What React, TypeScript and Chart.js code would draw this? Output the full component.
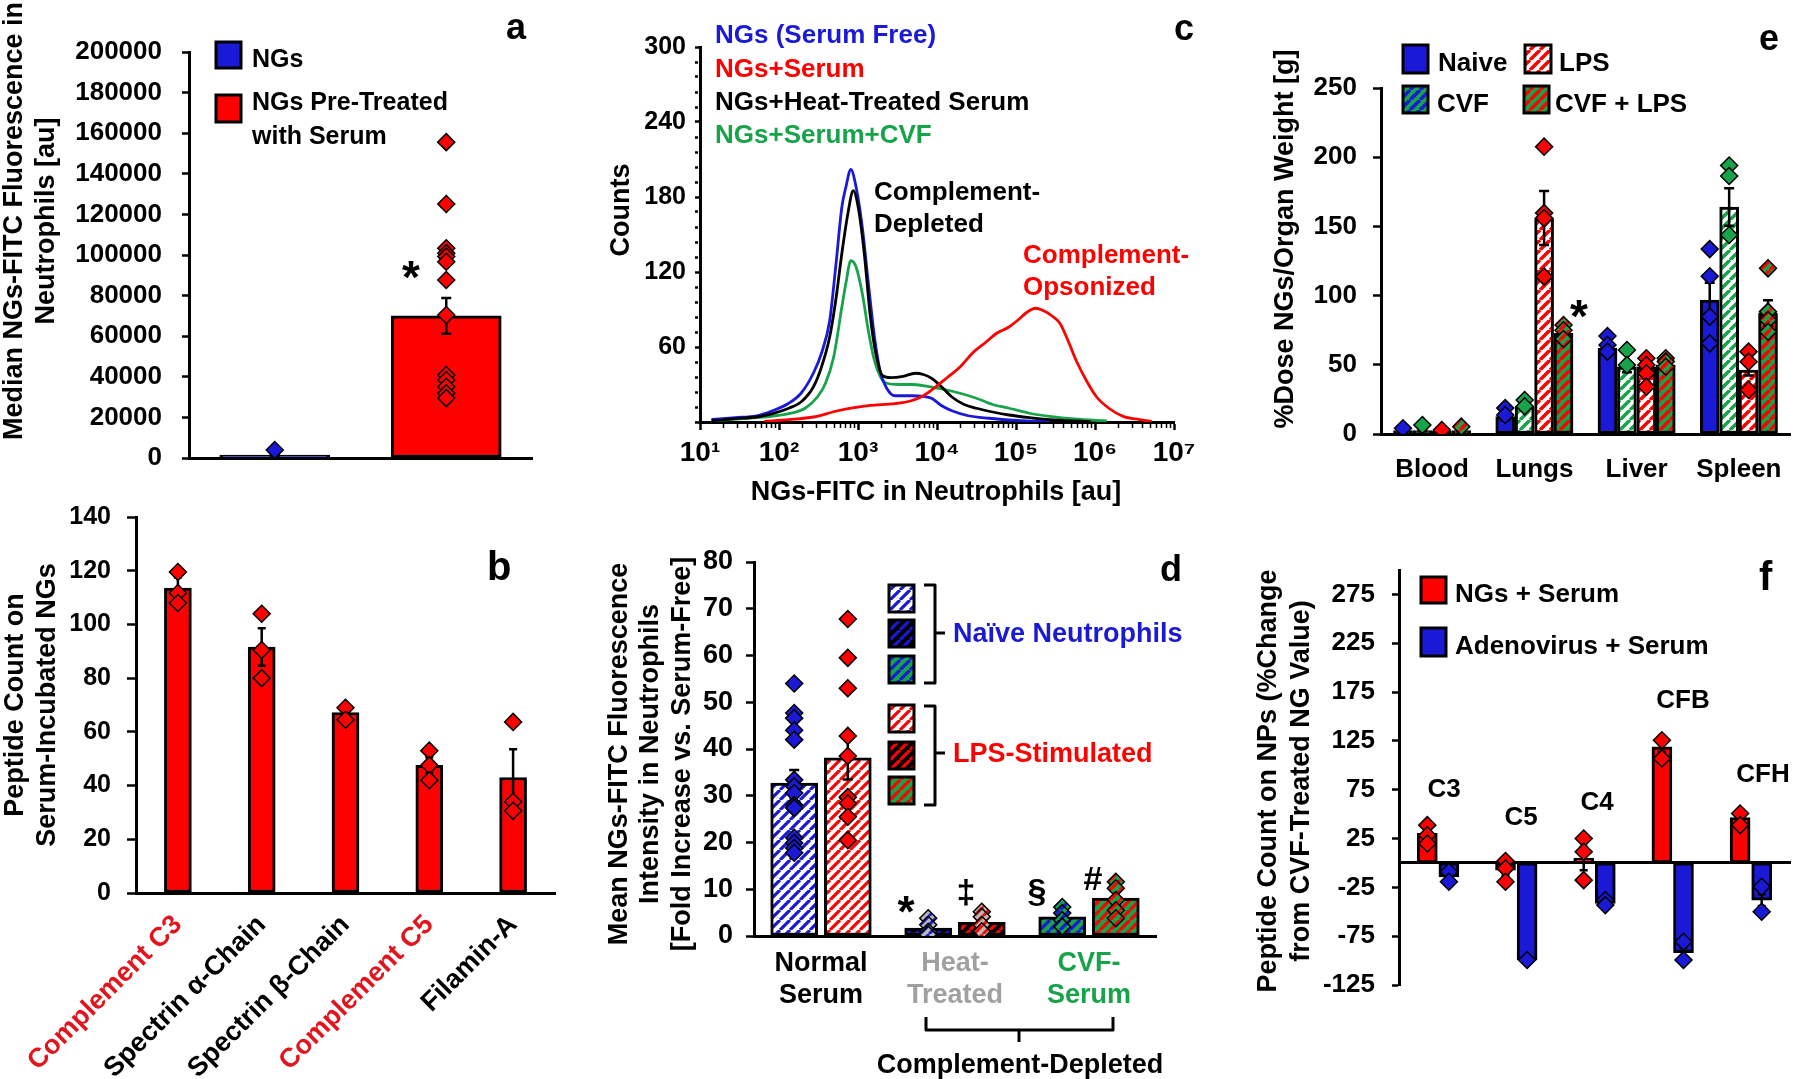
import React, { useEffect, useRef } from 'react';
import { Chart, registerables } from 'chart.js';

Chart.register(...registerables);

/* ======================= DATA ======================= */
// Panel a
const aGroups = ['NGs', 'NGs Pre-Treated with Serum'];
const aLegendLines = ['NGs', 'NGs Pre-Treated', 'with Serum'];
const aMeans = [1500, 70000];
const aErrors = [600, 8800];
const aPointsNGs = [3900];
const aPointsSerum = [155600, 125100, 103300, 100900, 99200, 96700, 87700, 70400, 40900, 38400, 35100, 31900, 29500];

// Panel b
const bProteins = ['Complement C3', 'Spectrin α-Chain', 'Spectrin β-Chain', 'Complement C5', 'Filamin-A'];
const bIsComplement = [true, false, false, true, false];
const bMeans = [113.5, 91.6, 67.2, 47.5, 43];
const bErrors = [4, 7, 1.5, 3, 10.5];
const bPoints = [[119.5, 111.7, 108], [104, 90.5, 80], [69, 64.5], [53, 47.6, 42], [63.7, 34, 30.6]];

// Panel c (flow cytometry histograms: x = NGs-FITC [au], y = counts)
const cSeries = ['NGs (Serum Free)', 'NGs+Serum', 'NGs+Heat-Treated Serum', 'NGs+Serum+CVF'];
const cSerumFreeX = [14, 28, 52, 83, 133, 190, 272, 345, 438, 522, 625, 703, 811, 946, 1132, 1352, 1616, 1932, 2308, 2926, 4710, 6730, 8530, 11480, 15450, 24850, 45000, 103300, 267500];
const cSerumFreeY = [2, 3.5, 5, 9, 15, 23, 39, 55, 81, 124, 172, 188, 202, 188, 156, 111, 68, 39, 27, 21, 21, 20.5, 19, 13, 9, 5, 3, 1.3, 0.3];
const cSerumX = [65, 133, 272, 554, 892, 1435, 2926, 4710, 6730, 9600, 13710, 19590, 27990, 39990, 57040, 81500, 103300, 139000, 176500, 223900, 283600, 359700, 456000, 579400, 779800, 1049000, 1497000, 2268000, 3650000, 5210000];
const cSerumY = [0.5, 1.9, 4, 9, 11.5, 13.3, 14.7, 17, 21, 28, 36, 44, 55, 63, 71, 76, 81, 88, 91, 89, 85, 79, 65, 49, 33, 20, 11, 4.5, 1.9, 0.5];
const cHeatX = [14, 28, 52, 83, 133, 190, 272, 345, 438, 522, 625, 746, 871, 1005, 1200, 1435, 1715, 2050, 2600, 3715, 5300, 6730, 8530, 11480, 15450, 22070, 31500, 50700, 81500, 147500, 267500, 545400, 877500];
const cHeatY = [1, 2.7, 4, 6.7, 11, 16, 28, 44, 68, 97, 135, 167, 185, 172, 135, 84, 52, 37, 35.5, 36.5, 39, 38, 35, 28, 20, 14, 11, 8, 5.6, 3.5, 1.9, 0.8, 0.3];
const cCvfX = [14, 52, 133, 214, 306, 388, 492, 625, 703, 811, 946, 1132, 1352, 1616, 1932, 2308, 3296, 4710, 7570, 12190, 19590, 31500, 50700, 81500, 147500, 267500, 545400, 1413000];
const cCvfY = [1, 3.5, 6.7, 11, 20, 31, 52, 92, 111, 129, 124, 103, 73, 49, 36, 31, 30, 30, 28.5, 26, 23, 19, 14, 11, 7, 4.5, 2.4, 0.8];

// Panel d
const dGroups = [['Normal', 'Serum'], ['Heat-', 'Treated'], ['CVF-', 'Serum']];
const dNaiveMeans = [32.7, 1.7, 4.1];
const dNaiveErrors = [2.8, 0.5, 0.8];
const dLpsMeans = [38.1, 2.9, 8.1];
const dLpsErrors = [4.6, 0.7, 1.4];
const dNaivePoints = [[54, 47.7, 46.6, 44, 42, 33.4, 32, 30.6, 28, 27.4, 21, 19.9, 18.8, 17.8], [3.8, 2.4, 0.9, 0.3], [6.2, 4.9, 3.4, 2]];
const dLpsPoints = [[67.8, 59.5, 53, 42.8, 38.5, 29.7, 28.4, 25.5, 20.5], [5.2, 4.1, 2.4, 1], [11.6, 10.2, 7.7, 5.5, 3.8]];

// Panel e
const eOrgans = ['Blood', 'Lungs', 'Liver', 'Spleen'];
const eTreatments = ['Naive', 'CVF', 'LPS', 'CVF + LPS'];
const eNaiveMeans = [2.5, 12.5, 62, 96.8];
const eCvfMeans = [2.5, 20, 48.6, 164];
const eLpsMeans = [2, 156, 48.6, 46.2];
const eCvfLpsMeans = [2.5, 72.7, 49.9, 87.2];
const eNaiveErrors = [0.5, 2.5, 3, 12.5];
const eCvfErrors = [0.5, 2.5, 4, 13.5];
const eLpsErrors = [0.5, 19.5, 4, 4];
const eCvfLpsErrors = [0.5, 3, 1.5, 9.5];
const eNaivePoints = [[4.1], [18.7, 13.7], [70.8, 64.3, 59.5], [133.6, 114, 84.8, 65.5]];
const eCvfPoints = [[6.5], [24.6, 20], [60.7, 49.9], [194, 186.4, 143.8]];
const eLpsPoints = [[2.9], [207.6, 159.6, 156, 113.7], [54.7, 49.9, 43.9, 34.2], [59.5, 52.2, 31.8]];
const eCvfLpsPoints = [[5.3], [78.8, 75, 68.6], [54.7, 52.3, 48.6], [119.7, 88.4, 82.4, 73.9]];

// Panel f
const fProteins = ['C3', 'C5', 'C4', 'CFB', 'CFH'];
const fSeries = ['NGs + Serum', 'Adenovirus + Serum'];
const fNgMeans = [30.2, -7.4, 4.6, 118.8, 46.5];
const fNgErrors = [3, 5, 12, 5, 3];
const fAdenoMeans = [-14.2, -99.4, -41.5, -92, -38];
const fAdenoErrors = [3, 1, 2, 5, 6];
const fNgPoints = [[38.7, 28.4, 19.9], [2, -5.6, -19.3], [25, 11.4, -17.6], [125.6, 106.9], [50.6, 38.7]];
const fAdenoPoints = [[-9, -19.3], [-99.4], [-38, -43.2], [-80.7, -99.4], [-24.4, -50]];
const fTicks = [-125, -75, -25, 25, 75, 125, 175, 225, 275];

/* ======================= STYLE ======================= */
const BLUE = '#1a1ad6';
const RED = '#ff0000';
const GREEN = '#17a34a';
const BLACK = '#000000';
const WHITE = '#ffffff';
const GRAY = '#a0a0a0';
const LABEL_RED = '#e3141c';
const SANS = '"Liberation Sans", Arial, Helvetica, sans-serif';

type Rect = { l: number; t: number; w: number; h: number };

function hatch(bg: string, fg: string, period: number, lw: number): any {
  const c = document.createElement('canvas');
  c.width = period;
  c.height = period;
  const g = c.getContext('2d') as CanvasRenderingContext2D;
  g.fillStyle = bg;
  g.fillRect(0, 0, period, period);
  g.strokeStyle = fg;
  g.lineWidth = lw;
  g.beginPath();
  for (const o of [-period, 0, period]) {
    g.moveTo(o, period);
    g.lineTo(o + period, 0);
  }
  g.stroke();
  return g.createPattern(c, 'repeat') || bg;
}

function makePatterns() {
  return {
    blueOnWhite: hatch(WHITE, BLUE, 10, 3.2),
    redOnWhite: hatch(WHITE, RED, 10, 3.2),
    blueOnBlack: hatch(BLACK, BLUE, 10, 3.2),
    redOnBlack: hatch(BLACK, RED, 10, 3.2),
    blueOnGreen: hatch(GREEN, BLUE, 10, 3.2),
    redOnGreen: hatch(GREEN, RED, 10, 3.2),
    blueOnGray: hatch('#b8b8b8', BLUE, 9, 3),
    redOnGray: hatch('#b8b8b8', RED, 9, 3),
    greenOnWhiteE: hatch(WHITE, GREEN, 10, 3.5),
    redOnWhiteE: hatch(WHITE, RED, 10, 3.5),
    redOnGreenE: hatch(GREEN, RED, 10, 3.5),
    blueOnGreenE: hatch(GREEN, BLUE, 10, 3.5),
  };
}

type TextOpts = { size: number; color?: string; align?: CanvasTextAlign; rot?: boolean };
function text(ctx: CanvasRenderingContext2D, s: string, x: number, y: number, o: TextOpts) {
  ctx.save();
  ctx.font = `bold ${o.size}px ${SANS}`;
  ctx.fillStyle = o.color || BLACK;
  ctx.textAlign = o.align || 'left';
  ctx.textBaseline = 'alphabetic';
  ctx.translate(x, y);
  if (o.rot) ctx.rotate(-Math.PI / 2);
  ctx.fillText(s, 0, 0);
  ctx.restore();
}

function box(ctx: CanvasRenderingContext2D, x: number, y: number, w: number, h: number, fill: any) {
  ctx.save();
  ctx.fillStyle = fill;
  ctx.fillRect(x, y, w, h);
  ctx.strokeStyle = BLACK;
  ctx.lineWidth = 3;
  ctx.strokeRect(x, y, w, h);
  ctx.restore();
}

function poly(ctx: CanvasRenderingContext2D, pts: number[][], lw = 3) {
  ctx.save();
  ctx.strokeStyle = BLACK;
  ctx.lineWidth = lw;
  ctx.lineJoin = 'round';
  ctx.beginPath();
  pts.forEach((p, i) => (i ? ctx.lineTo(p[0], p[1]) : ctx.moveTo(p[0], p[1])));
  ctx.stroke();
  ctx.restore();
}

function overlay(rect: Rect, draw: (ctx: CanvasRenderingContext2D, chart: any) => void) {
  return {
    id: 'overlay',
    afterDraw(chart: any) {
      const ctx = chart.ctx as CanvasRenderingContext2D;
      ctx.save();
      ctx.translate(-rect.l, -rect.t);
      draw(ctx, chart);
      ctx.restore();
    },
  };
}

function errorBars(map: Record<number, number[]>, cap: number, lw = 2.5) {
  return {
    id: 'errorBars',
    afterDatasetDraw(chart: any, args: any) {
      const errs = map[args.index];
      if (!errs) return;
      const ys = chart.scales.y;
      const ctx = chart.ctx as CanvasRenderingContext2D;
      const ds = chart.data.datasets[args.index];
      ctx.save();
      ctx.strokeStyle = BLACK;
      ctx.lineWidth = lw;
      args.meta.data.forEach((el: any, j: number) => {
        const v = ds.data[j].y;
        const e = errs[j];
        if (!e) return;
        const x = el.x;
        const y1 = ys.getPixelForValue(v + e);
        const y2 = ys.getPixelForValue(v - e);
        ctx.beginPath();
        ctx.moveTo(x, y1);
        ctx.lineTo(x, y2);
        ctx.moveTo(x - cap, y1);
        ctx.lineTo(x + cap, y1);
        ctx.moveTo(x - cap, y2);
        ctx.lineTo(x + cap, y2);
        ctx.stroke();
      });
      ctx.restore();
    },
  };
}

function diamond(fill: any, r = 8.5) {
  return {
    type: 'scatter',
    pointStyle: 'rectRot',
    pointRadius: r,
    pointBackgroundColor: fill,
    pointBorderColor: BLACK,
    pointBorderWidth: 1.5,
    backgroundColor: fill,
    borderColor: BLACK,
    showLine: false,
    order: 0,
  };
}

function bars(width: number) {
  return {
    type: 'bar',
    borderColor: BLACK,
    borderWidth: 3,
    borderSkipped: false,
    grouped: false,
    barPercentage: 1,
    categoryPercentage: 1,
    maxBarThickness: width,
    order: 1,
  };
}

function valAxis(o: { min: number; max: number; step?: number; values?: number[]; width: number; size: number; tickLen: number; pad: number; label?: (v: number) => string; dash?: (v: number) => number[] }) {
  return {
    type: 'linear',
    min: o.min,
    max: o.max,
    afterFit: (s: any) => { s.width = o.width; s.paddingTop = 0; s.paddingBottom = 0; },
    afterBuildTicks: (s: any) => { if (o.values) s.ticks = o.values.map((v) => ({ value: v })); },
    ticks: {
      stepSize: o.step,
      autoSkip: false,
      color: BLACK,
      padding: o.pad,
      font: { family: SANS, size: o.size, weight: 'bold' },
      callback: (v: any) => (o.label ? o.label(Number(v)) : String(v)),
    },
    grid: {
      drawOnChartArea: false,
      drawTicks: true,
      tickLength: o.tickLen,
      tickColor: BLACK,
      tickWidth: 2.5,
      tickBorderDash: (c: any) => (o.dash && c.tick ? o.dash(c.tick.value) : []),
    },
    border: { display: true, color: BLACK, width: 3 },
  };
}

function catAxis(o: { n: number; height: number; labels?: any[]; colors?: string[]; size?: number; pad?: number; rot?: number; position?: any }) {
  const lbl = o.labels;
  return {
    type: 'linear',
    min: -0.5,
    max: o.n - 0.5,
    offset: false,
    position: o.position || 'bottom',
    afterFit: (s: any) => { s.height = o.height; s.paddingLeft = 0; s.paddingRight = 0; },
    afterBuildTicks: (s: any) => { s.ticks = Array.from({ length: o.n }, (_, i) => ({ value: i })); },
    ticks: {
      display: !!lbl,
      autoSkip: false,
      maxRotation: o.rot || 0,
      minRotation: o.rot || 0,
      padding: o.pad || 0,
      color: (c: any) => (o.colors ? o.colors[c.index] : BLACK),
      font: { family: SANS, size: o.size || 24, weight: 'bold' },
      callback: (_v: any, i: number) => (lbl ? lbl[i] : ''),
    },
    grid: { display: false, drawTicks: false, offset: false },
    border: { display: true, color: BLACK, width: 3 },
  };
}

function baseOptions(padding: any, scales: any) {
  return {
    responsive: false,
    animation: false,
    events: [],
    layout: { padding: { left: 0, bottom: 0, ...padding } },
    plugins: { legend: { display: false }, tooltip: { enabled: false }, title: { display: false } },
    scales,
  };
}

/* ======================= PANELS ======================= */
const RA: Rect = { l: 0, t: 0, w: 560, h: 480 };
function makeA(r: Rect) {
  const datasets: any[] = [
    { ...diamond(BLUE), label: aGroups[0], data: aPointsNGs.map((y) => ({ x: 0, y })) },
    { ...diamond(RED), label: aGroups[1], data: aPointsSerum.map((y) => ({ x: 1, y })) },
    { ...bars(110), label: 'mean', data: aMeans.map((y, i) => ({ x: i, y })), backgroundColor: [BLUE, RED] },
  ];
  return {
    type: 'bar',
    data: { datasets },
    options: baseOptions({ top: 52, right: 28 }, {
      x: catAxis({ n: aGroups.length, height: 22 }),
      y: valAxis({ min: 0, max: 200000, step: 20000, width: 189, size: 26, tickLen: 7, pad: 20 }),
    }),
    plugins: [
      errorBars({ 2: aErrors }, 5),
      overlay(r, (ctx) => {
        box(ctx, 216, 42, 25, 26, BLUE);
        box(ctx, 216, 95, 25, 27, RED);
        text(ctx, aLegendLines[0], 252, 67, { size: 25 });
        text(ctx, aLegendLines[1], 252, 110, { size: 25 });
        text(ctx, aLegendLines[2], 252, 144, { size: 25 });
        text(ctx, 'a', 506, 39, { size: 36 });
        text(ctx, '*', 411, 293, { size: 46, align: 'center' });
        text(ctx, 'Median NGs-FITC Fluorescence in', 22, 221, { size: 27, rot: true, align: 'center' });
        text(ctx, 'Neutrophils [au]', 54, 221, { size: 27, rot: true, align: 'center' });
      }),
    ],
  };
}

const RB: Rect = { l: 0, t: 480, w: 580, h: 599 };
function makeB(r: Rect) {
  const datasets: any[] = [
    { ...diamond(RED), label: 'replicates', data: bPoints.flatMap((arr, i) => arr.map((y) => ({ x: i, y }))) },
    { ...bars(27), label: 'mean', data: bMeans.map((y, i) => ({ x: i, y })), backgroundColor: RED },
  ];
  return {
    type: 'bar',
    data: { datasets },
    options: baseOptions({ top: 37, right: 25 }, {
      x: catAxis({ n: bProteins.length, height: 186, labels: bProteins, colors: bIsComplement.map((c) => (c ? LABEL_RED : BLACK)), size: 27, pad: 16, rot: 45 }),
      y: valAxis({ min: 0, max: 140, step: 20, width: 136, size: 25, tickLen: 9, pad: 16 }),
    }),
    plugins: [
      errorBars({ 1: bErrors }, 4),
      overlay(r, (ctx) => {
        text(ctx, 'b', 487, 580, { size: 40 });
        text(ctx, 'Peptide Count on', 23, 705, { size: 27, rot: true, align: 'center' });
        text(ctx, 'Serum-Incubated NGs', 55, 705, { size: 27, rot: true, align: 'center' });
      }),
    ],
  };
}

const SUP: Record<string, string> = { '0': '⁰', '1': '¹', '2': '²', '3': '³', '4': '⁴', '5': '⁵', '6': '⁶', '7': '⁷', '8': '⁸', '9': '⁹' };
function isPow10(v: number) {
  if (!v) return false;
  const l = Math.log10(v);
  return Math.abs(l - Math.round(l)) < 1e-6;
}

const RC: Rect = { l: 560, t: 0, w: 680, h: 520 };
function makeC(r: Rect) {
  const line = (xs: number[], ys: number[], color: string, label: string, order: number) => ({
    type: 'line', label, data: xs.map((x, i) => ({ x, y: ys[i] })), borderColor: color, borderWidth: 2.8,
    pointRadius: 0, fill: false, cubicInterpolationMode: 'monotone', order,
  });
  const datasets: any[] = [
    line(cSerumX, cSerumY, RED, cSeries[1], 0),
    line(cHeatX, cHeatY, BLACK, cSeries[2], 1),
    line(cSerumFreeX, cSerumFreeY, BLUE, cSeries[0], 2),
    line(cCvfX, cCvfY, GREEN, cSeries[3], 3),
  ];
  const xTicks: number[] = [];
  for (let e = 1; e < 7; e++) for (let m = 1; m < 10; m++) xTicks.push(m * Math.pow(10, e));
  xTicks.push(1e7);
  const yTicks = Array.from({ length: 26 }, (_, i) => i * 12);
  return {
    type: 'line',
    data: { datasets },
    options: baseOptions({ top: 47, right: 66 }, {
      x: {
        type: 'logarithmic', min: 10, max: 1e7,
        afterFit: (s: any) => { s.height = 98; s.paddingLeft = 0; s.paddingRight = 0; },
        afterBuildTicks: (s: any) => { s.ticks = xTicks.map((v) => ({ value: v })); },
        ticks: {
          autoSkip: false, maxRotation: 0, minRotation: 0, padding: 6, color: BLACK,
          font: { family: SANS, size: 28, weight: 'bold' },
          callback: (v: any) => (isPow10(Number(v)) ? '10' + SUP[String(Math.round(Math.log10(Number(v))))] : ''),
        },
        grid: {
          drawOnChartArea: false, drawTicks: true, tickLength: 8, tickColor: BLACK,
          tickWidth: (c: any) => (c.tick && isPow10(c.tick.value) ? 2.5 : 1.5),
          tickBorderDash: (c: any) => (c.tick && isPow10(c.tick.value) ? [] : [4, 20]),
        },
        border: { display: true, color: BLACK, width: 3 },
      },
      y: valAxis({
        min: 0, max: 300, values: yTicks, width: 140, size: 25, tickLen: 5, pad: 9,
        label: (v) => (v > 0 && v % 60 === 0 ? String(v) : ''),
        dash: (v) => (v % 60 === 0 ? [] : [3, 20]),
      }),
    }),
    plugins: [
      overlay(r, (ctx) => {
        text(ctx, cSeries[0], 715, 43, { size: 26, color: BLUE });
        text(ctx, cSeries[1], 715, 77, { size: 26, color: RED });
        text(ctx, cSeries[2], 715, 110, { size: 26, color: BLACK });
        text(ctx, cSeries[3], 715, 143, { size: 26, color: GREEN });
        text(ctx, 'Complement-', 874, 200, { size: 26 });
        text(ctx, 'Depleted', 874, 232, { size: 26 });
        text(ctx, 'Complement-', 1023, 263, { size: 26, color: RED });
        text(ctx, 'Opsonized', 1023, 295, { size: 26, color: RED });
        text(ctx, 'NGs-FITC in Neutrophils [au]', 936, 500, { size: 27, align: 'center' });
        text(ctx, 'Counts', 629, 210, { size: 27, rot: true, align: 'center' });
        text(ctx, 'c', 1174, 40, { size: 36 });
      }),
    ],
  };
}

const D_OFF = 0.2;
const RD: Rect = { l: 560, t: 520, w: 680, h: 559 };
function makeD(r: Rect) {
  const P = makePatterns();
  const naiveBarFill = [P.blueOnWhite, P.blueOnBlack, P.blueOnGreen];
  const lpsBarFill = [P.redOnWhite, P.redOnBlack, P.redOnGreen];
  const naiveDotFill = [BLUE, P.blueOnGray, P.blueOnGreen];
  const lpsDotFill = [RED, P.redOnGray, P.redOnGreen];
  const datasets: any[] = [
    {
      ...diamond(dNaivePoints.flatMap((arr, g) => arr.map(() => naiveDotFill[g]))), label: 'Naïve replicates',
      data: dNaivePoints.flatMap((arr, g) => arr.map((y) => ({ x: g - D_OFF, y }))),
    },
    {
      ...diamond(dLpsPoints.flatMap((arr, g) => arr.map(() => lpsDotFill[g]))), label: 'LPS replicates',
      data: dLpsPoints.flatMap((arr, g) => arr.map((y) => ({ x: g + D_OFF, y }))),
    },
    { ...bars(47), label: 'Naïve Neutrophils', data: dNaiveMeans.map((y, g) => ({ x: g - D_OFF, y })), backgroundColor: naiveBarFill },
    { ...bars(47), label: 'LPS-Stimulated', data: dLpsMeans.map((y, g) => ({ x: g + D_OFF, y })), backgroundColor: lpsBarFill },
  ];
  return {
    type: 'bar',
    data: { datasets },
    options: baseOptions({ top: 42, right: 84 }, {
      x: catAxis({ n: dGroups.length, height: 143, labels: dGroups, colors: [BLACK, GRAY, GREEN], size: 27, pad: 11 }),
      y: valAxis({ min: 0, max: 80, step: 10, width: 194, size: 27, tickLen: 8, pad: 13 }),
    }),
    plugins: [
      errorBars({ 2: dNaiveErrors, 3: dLpsErrors }, 5),
      overlay(r, (ctx) => {
        const ys = [585, 620, 656, 705, 742, 777];
        const fills = [...naiveBarFill, ...lpsBarFill];
        ys.forEach((y, i) => box(ctx, 889, y, 25, 27, fills[i]));
        poly(ctx, [[924, 585], [935, 585], [935, 683], [924, 683]]);
        poly(ctx, [[935, 633], [945, 633]]);
        poly(ctx, [[924, 706], [935, 706], [935, 805], [924, 805]]);
        poly(ctx, [[935, 753], [945, 753]]);
        text(ctx, 'Naïve Neutrophils', 953, 642, { size: 27, color: BLUE });
        text(ctx, 'LPS-Stimulated', 953, 762, { size: 27, color: RED });
        text(ctx, '*', 906, 927, { size: 44, align: 'center' });
        text(ctx, '‡', 966, 903, { size: 34, align: 'center' });
        text(ctx, '§', 1037, 902, { size: 34, align: 'center' });
        text(ctx, '#', 1093, 890, { size: 34, align: 'center' });
        poly(ctx, [[926, 1017], [926, 1030], [1113, 1030], [1113, 1017]]);
        poly(ctx, [[1019, 1030], [1019, 1042]]);
        text(ctx, 'Complement-Depleted', 1020, 1073, { size: 27, align: 'center' });
        text(ctx, 'Mean NGs-FITC Fluorescence', 627, 754, { size: 27, rot: true, align: 'center' });
        text(ctx, 'Intensity in Neutrophils', 658, 754, { size: 27, rot: true, align: 'center' });
        text(ctx, '[Fold Increase vs. Serum-Free]', 690, 754, { size: 27, rot: true, align: 'center' });
        text(ctx, 'd', 1160, 581, { size: 36 });
      }),
    ],
  };
}

const E_OFF = [-0.285, -0.095, 0.095, 0.285];
const RE: Rect = { l: 1230, t: 0, w: 570, h: 500 };
function makeE(r: Rect) {
  const P = makePatterns();
  const means = [eNaiveMeans, eCvfMeans, eLpsMeans, eCvfLpsMeans];
  const errs = [eNaiveErrors, eCvfErrors, eLpsErrors, eCvfLpsErrors];
  const pts = [eNaivePoints, eCvfPoints, eLpsPoints, eCvfLpsPoints];
  const barFill = [BLUE, P.greenOnWhiteE, P.redOnWhiteE, P.redOnGreenE];
  const dotFill = [BLUE, GREEN, RED, P.redOnGreenE];
  const datasets: any[] = [];
  pts.forEach((series, k) => {
    datasets.push({ ...diamond(dotFill[k]), label: eTreatments[k] + ' replicates', data: series.flatMap((arr, g) => arr.map((y) => ({ x: g + E_OFF[k], y }))) });
  });
  means.forEach((series, k) => {
    datasets.push({ ...bars(19), label: eTreatments[k], data: series.map((y, g) => ({ x: g + E_OFF[k], y })), backgroundColor: barFill[k] });
  });
  return {
    type: 'bar',
    data: { datasets },
    options: baseOptions({ top: 88, right: 3 }, {
      x: catAxis({ n: eOrgans.length, height: 66, labels: eOrgans, size: 26, pad: 20 }),
      y: valAxis({ min: 0, max: 250, step: 50, width: 151, size: 26, tickLen: 8, pad: 16 }),
    }),
    plugins: [
      errorBars({ 4: errs[0], 5: errs[1], 6: errs[2], 7: errs[3] }, 5),
      overlay(r, (ctx) => {
        box(ctx, 1403, 45, 25, 28, BLUE);
        box(ctx, 1525, 45, 26, 28, P.redOnWhiteE);
        box(ctx, 1403, 86, 25, 27, P.blueOnGreenE);
        box(ctx, 1524, 86, 25, 27, P.redOnGreenE);
        text(ctx, eTreatments[0], 1438, 71, { size: 26 });
        text(ctx, eTreatments[2], 1559, 71, { size: 26 });
        text(ctx, eTreatments[1], 1437, 112, { size: 26 });
        text(ctx, eTreatments[3], 1555, 112, { size: 26 });
        text(ctx, 'e', 1759, 50, { size: 36 });
        text(ctx, '*', 1579, 332, { size: 46, align: 'center' });
        text(ctx, '%Dose NGs/Organ Weight [g]', 1293, 239, { size: 27, rot: true, align: 'center' });
      }),
    ],
  };
}

const F_OFF = 0.138;
const RF: Rect = { l: 1230, t: 500, w: 570, h: 579 };
function makeF(r: Rect) {
  const datasets: any[] = [
    { ...diamond(RED), label: fSeries[0] + ' replicates', data: fNgPoints.flatMap((arr, g) => arr.map((y) => ({ x: g - F_OFF, y }))) },
    { ...diamond(BLUE), label: fSeries[1] + ' replicates', data: fAdenoPoints.flatMap((arr, g) => arr.map((y) => ({ x: g + F_OFF, y }))) },
    { ...bars(20), label: fSeries[0], data: fNgMeans.map((y, g) => ({ x: g - F_OFF, y })), backgroundColor: RED },
    { ...bars(20), label: fSeries[1], data: fAdenoMeans.map((y, g) => ({ x: g + F_OFF, y })), backgroundColor: BLUE },
  ];
  const labelPos = [[1444, 797], [1521, 825], [1597, 810], [1683, 708], [1763, 782]];
  return {
    type: 'bar',
    data: { datasets },
    options: baseOptions({ top: 70, right: 3, bottom: 94 }, {
      x: catAxis({ n: fProteins.length, height: 0, position: { y: 0 } }),
      y: valAxis({ min: -125, max: 300, values: fTicks, width: 169, size: 26, tickLen: 7, pad: 17 }),
    }),
    plugins: [
      errorBars({ 2: fNgErrors, 3: fAdenoErrors }, 4),
      overlay(r, (ctx) => {
        box(ctx, 1421, 577, 25, 26, RED);
        box(ctx, 1421, 628, 25, 28, BLUE);
        text(ctx, fSeries[0], 1455, 602, { size: 26 });
        text(ctx, fSeries[1], 1455, 654, { size: 26 });
        text(ctx, 'f', 1759, 590, { size: 40 });
        fProteins.forEach((p, i) => text(ctx, p, labelPos[i][0], labelPos[i][1], { size: 26, align: 'center' }));
        text(ctx, 'Peptide Count on NPs (%Change', 1276, 781, { size: 27, rot: true, align: 'center' });
        text(ctx, 'from CVF-Treated NG Value)', 1309, 781, { size: 27, rot: true, align: 'center' });
      }),
    ],
  };
}

/* ======================= REACT ======================= */
function ChartPanel({ rect, make }: { rect: Rect; make: (r: Rect) => any }) {
  const ref = useRef<HTMLCanvasElement | null>(null);
  useEffect(() => {
    const chart = new Chart(ref.current as HTMLCanvasElement, make(rect));
    return () => chart.destroy();
  }, []);
  return (
    <canvas
      ref={ref}
      width={rect.w}
      height={rect.h}
      style={{ position: 'absolute', left: rect.l, top: rect.t, width: rect.w, height: rect.h }}
    />
  );
}

export default function App() {
  return (
    <div style={{ position: 'fixed', left: 0, top: 0, width: 1800, height: 1079, background: '#ffffff', overflow: 'hidden' }}>
      <ChartPanel rect={RA} make={makeA} />
      <ChartPanel rect={RB} make={makeB} />
      <ChartPanel rect={RC} make={makeC} />
      <ChartPanel rect={RD} make={makeD} />
      <ChartPanel rect={RE} make={makeE} />
      <ChartPanel rect={RF} make={makeF} />
    </div>
  );
}
